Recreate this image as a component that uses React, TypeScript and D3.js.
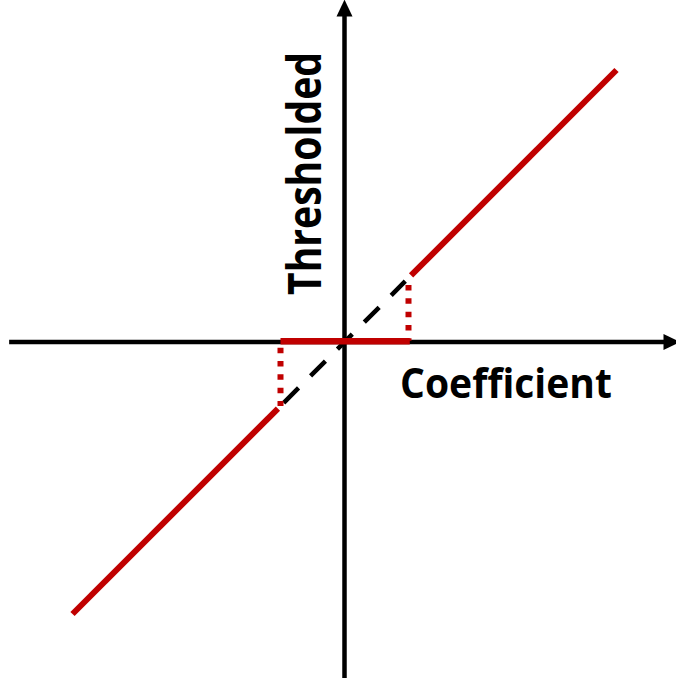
import React from "react";
import * as d3 from "d3";

const W = 676;
const H = 678;

// data (in coefficient units)
const lambda = [1];
const upperSegment = [1.04, 4.25];
const lowerSegment = [-4.25, -1.04];
const flatSegment = [-1.0, 1.02];
const dashedSegment = [-0.95, 0.95];
const rightDotted = [0.89, 0.02];
const leftDotted = [-0.09, -1.0];
const xAxisExtent = [-5.24, 5.0];
const yAxisExtent = [5.1, -5.25];
const axisLabels = ["Coefficient", "Thresholded"];

const RED = "#C00000";

export default function App() {
  const unit = 64;
  const ox = 344.5;
  const oy = 342;
  const x = d3.scaleLinear().domain([0, 1]).range([ox, ox + unit]);
  const y = d3.scaleLinear().domain([0, 1]).range([oy, oy - unit]);
  const line = d3
    .line<[number, number]>()
    .x((d) => x(d[0]))
    .y((d) => y(d[1]));

  const L = lambda[0];
  const arrowLen = 16;
  const arrowHalf = 8;

  const xTip = x(xAxisExtent[1]) + arrowLen;
  const yTip = y(yAxisExtent[0]) - arrowLen;

  return (
    <svg
      width={W}
      height={H}
      style={{ position: "absolute", left: 0, top: 0, background: "#fff" }}
    >
      {/* axes */}
      <path
        d={line([
          [xAxisExtent[0], 0],
          [xAxisExtent[1], 0],
        ])!}
        stroke="#000"
        strokeWidth={4.5}
        fill="none"
      />
      <path
        d={`M${x(xAxisExtent[1]) - 1},${oy - arrowHalf} L${xTip},${oy} L${x(xAxisExtent[1]) - 1},${oy + arrowHalf} Z`}
        fill="#000"
      />
      <path
        d={line([
          [0, yAxisExtent[0]],
          [0, yAxisExtent[1]],
        ])!}
        stroke="#000"
        strokeWidth={4.5}
        fill="none"
      />
      <path
        d={`M${ox - arrowHalf},${y(yAxisExtent[0]) + 1} L${ox},${yTip} L${ox + arrowHalf},${y(yAxisExtent[0]) + 1} Z`}
        fill="#000"
      />

      {/* identity dashed */}
      <path
        d={line([
          [dashedSegment[0], dashedSegment[0]],
          [dashedSegment[1], dashedSegment[1]],
        ])!}
        stroke="#000"
        strokeWidth={4.5}
        strokeDasharray="21 17"
        fill="none"
      />

      {/* red dotted verticals */}
      <path
        d={line([
          [L, rightDotted[0]],
          [L, rightDotted[1]],
        ])!}
        stroke={RED}
        strokeWidth={6}
        strokeDasharray="5.5 7.8"
        fill="none"
      />
      <path
        d={line([
          [-L, leftDotted[0]],
          [-L, leftDotted[1]],
        ])!}
        stroke={RED}
        strokeWidth={6}
        strokeDasharray="5.5 7.8"
        fill="none"
      />

      {/* red flat */}
      <path
        d={line([
          [flatSegment[0], 0.01],
          [flatSegment[1], 0.01],
        ])!}
        stroke={RED}
        strokeWidth={6.5}
        fill="none"
      />

      {/* red diagonals */}
      <path
        d={line([
          [upperSegment[0], upperSegment[0]],
          [upperSegment[1], upperSegment[1]],
        ])!}
        stroke={RED}
        strokeWidth={6}
        fill="none"
      />
      <path
        d={line([
          [lowerSegment[0], lowerSegment[0]],
          [lowerSegment[1], lowerSegment[1]],
        ])!}
        stroke={RED}
        strokeWidth={6}
        fill="none"
      />

      {/* labels */}
      <text
        x={400}
        y={398}
        fontFamily="'Open Sans', Lato, sans-serif"
        fontWeight="bold"
        fontSize={41}
        textLength={212}
        lengthAdjust="spacingAndGlyphs"
        fill="#000"
      >
        {axisLabels[0]}
      </text>
      <text
        transform={`translate(321,295) rotate(-90)`}
        x={0}
        y={0}
        fontFamily="'Open Sans', Lato, sans-serif"
        fontWeight="bold"
        fontSize={46}
        textLength={243}
        lengthAdjust="spacingAndGlyphs"
        fill="#000"
      >
        {axisLabels[1]}
      </text>
    </svg>
  );
}
